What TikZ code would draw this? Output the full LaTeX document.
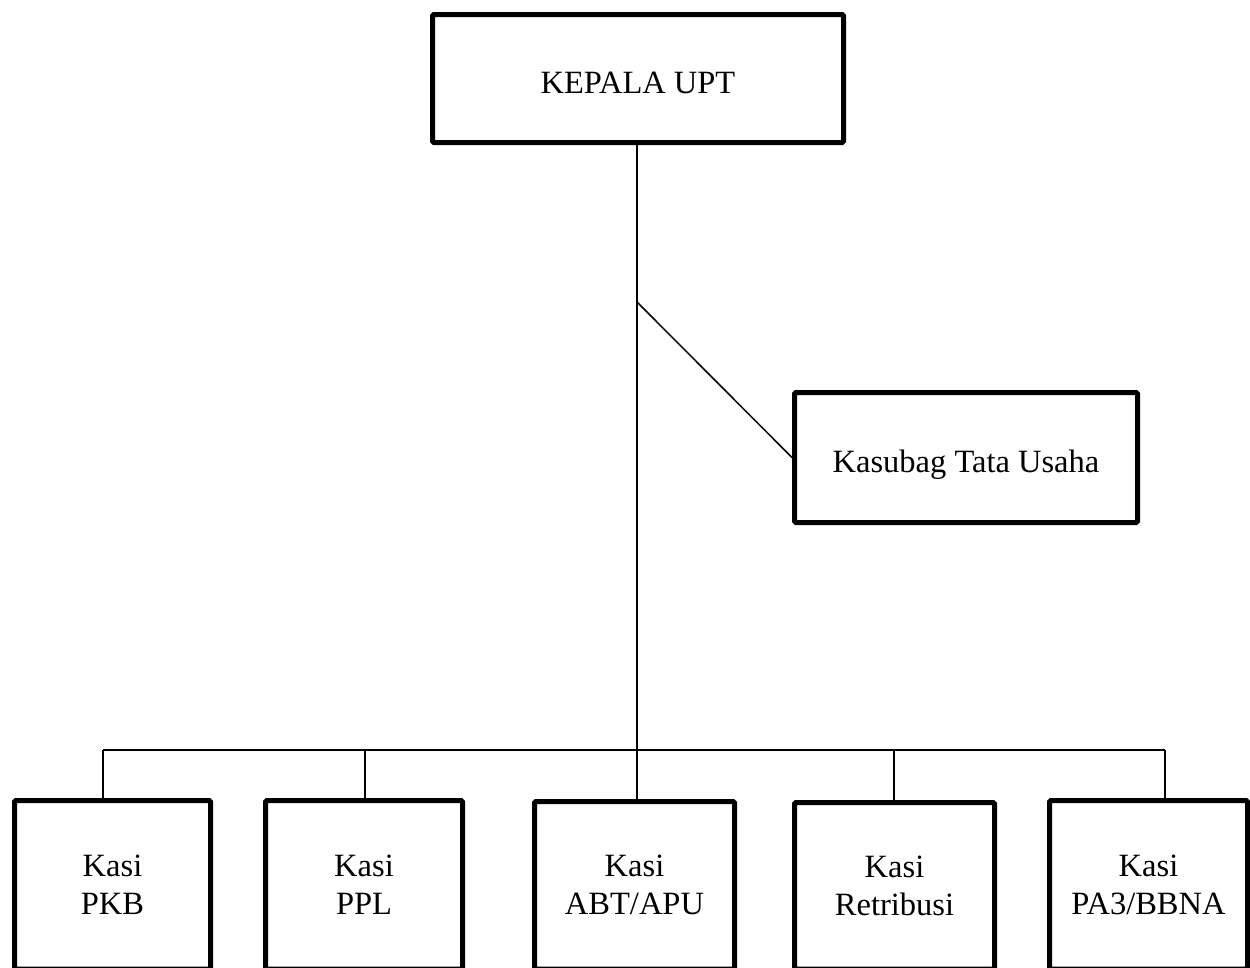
\documentclass[tikz,border=0pt]{standalone}
\usepackage{fontspec}
\setmainfont{Liberation Serif}
\begin{document}
\begin{tikzpicture}[x=1pt,y=-1pt,
  orgbox/.style={draw=black,line width=5pt,rounded corners=1.5pt,fill=white,inner sep=0pt,align=center,
    font=\fontsize{32.5}{38}\selectfont},
  onerow/.style={text height=30pt,text depth=0pt},
  link/.style={draw=black,line width=1.5pt}]
\useasboundingbox (0,0) rectangle (1250,967);
\clip (0,0) rectangle (1250,967);
\fill[white] (0,0) rectangle (1250,967);
% boxes
\node[orgbox,onerow,minimum width=411pt,minimum height=128pt] (kepala) at (638,78.5) {KEPALA UPT};
\node[orgbox,onerow,minimum width=343pt,minimum height=130pt] (kasubag) at (966,457.5) {Kasubag Tata Usaha};
\node[orgbox,minimum width=196pt,minimum height=168.5pt] (k1) at (112.5,884.75) {Kasi\\PKB};
\node[orgbox,minimum width=197pt,minimum height=168.5pt] (k2) at (364,884.75) {Kasi\\PPL};
\node[orgbox,minimum width=200pt,minimum height=167.5pt] (k3) at (634.5,885.25) {Kasi\\ABT/APU};
\node[orgbox,minimum width=200pt,minimum height=166.5pt] (k4) at (894.5,885.75) {Kasi\\Retribusi};
\node[orgbox,minimum width=198pt,minimum height=168.5pt] (k5) at (1148.5,884.75) {Kasi\\PA3/BBNA};
% connector coordinates
\coordinate (branch) at (637,302);
\coordinate (busmid) at (637,750);
\coordinate (d1) at (103,750);
\coordinate (d2) at (365,750);
\coordinate (d4) at (894,750);
\coordinate (d5) at (1165,750);
% connectors
\draw[link] (kepala.south -| busmid) -- (busmid);
\draw[link] (branch) -- (kasubag.west);
\draw[link] (d1) -- (d5);
\draw[link] (d1) -- (d1 |- k1.north);
\draw[link] (d2) -- (d2 |- k2.north);
\draw[link] (busmid) -- (busmid |- k3.north);
\draw[link] (d4) -- (d4 |- k4.north);
\draw[link] (d5) -- (d5 |- k5.north);
\end{tikzpicture}
\end{document}
